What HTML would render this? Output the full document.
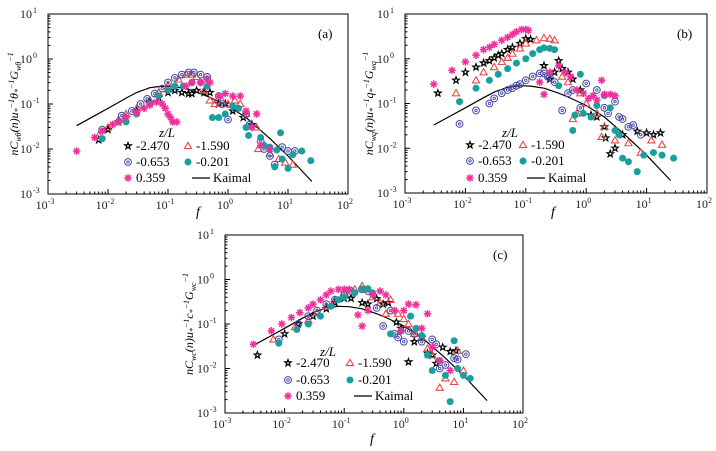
<!DOCTYPE html>
<html><head><meta charset="utf-8">
<style>
html,body{margin:0;padding:0;background:#fff;}
svg{display:block;font-family:"Liberation Serif",serif;}
</style></head>
<body>
<svg id="chart" width="716" height="451" viewBox="0 0 716 451"></svg>
<script>
// Shared Kaimal curve
const kaimalF = [0.003,0.006,0.01,0.02,0.03,0.05,0.08,0.12,0.2,0.35,0.5,1,2,5,10,25];
const kaimalV = [0.033,0.055,0.08,0.135,0.18,0.23,0.25,0.245,0.22,0.17,0.14,0.09,0.05,0.017,0.007,0.0019];
const xTicks = [-3,-2,-1,0,1,2];
const yTicks = [-3,-2,-1,0,1];
const seriesNames = ["-2.470","-1.590","-0.653","-0.201","0.359"];

// Panel (a)
const aStarF=[0.007,0.01,0.015,0.02,0.03,0.05,0.07,0.1,0.13,0.17,0.22,0.25,0.3,0.4,0.5,0.7,0.9,1.2,1.8,2.5];
const aStarV=[0.016,0.027,0.04,0.05,0.07,0.11,0.14,0.18,0.2,0.18,0.17,0.17,0.2,0.18,0.18,0.1,0.1,0.07,0.05,0.035];
const aTriF=[0.007,0.01,0.015,0.02,0.03,0.05,0.07,0.1,0.15,0.2,0.25,0.3,0.4,0.5,0.6,0.8,1.0,1.3,1.6,2,3,3.2,4,5,7,9,12];
const aTriV=[0.02,0.03,0.045,0.06,0.08,0.12,0.18,0.25,0.35,0.45,0.45,0.4,0.2,0.12,0.1,0.12,0.1,0.12,0.1,0.06,0.03,0.01,0.012,0.008,0.006,0.005,0.0045];
const aCirF=[0.008,0.017,0.025,0.035,0.045,0.06,0.08,0.1,0.13,0.17,0.22,0.27,0.35,0.45,0.7,0.8,1.0,1.3,2,2.3,3.5,4,5,6,8,10,13];
const aCirV=[0.027,0.055,0.07,0.1,0.13,0.17,0.22,0.3,0.38,0.45,0.5,0.5,0.45,0.4,0.15,0.1,0.045,0.08,0.06,0.035,0.015,0.01,0.007,0.0045,0.011,0.009,0.009];
const aDotF=[0.008,0.015,0.02,0.03,0.05,0.07,0.1,0.13,0.18,0.25,0.35,0.45,0.55,0.7,0.9,1.2,1.5,2,2.2,3.5,4,5,6,6.5,7.5,8,10,12,17,24];
const aDotV=[0.017,0.04,0.04,0.06,0.1,0.15,0.2,0.25,0.25,0.3,0.3,0.25,0.05,0.05,0.06,0.09,0.08,0.03,0.02,0.018,0.012,0.011,0.004,0.0095,0.023,0.006,0.0037,0.0075,0.009,0.0055];
const aAstF=[0.003,0.006,0.008,0.012,0.015,0.02,0.03,0.04,0.05,0.065,0.08,0.09,0.1,0.11,0.12,0.14,0.2,0.25,0.35,0.45,0.5,0.7,0.9,1.2,1.6,2,2.5,3,3.5,5];
const aAstV=[0.009,0.018,0.025,0.035,0.04,0.05,0.065,0.08,0.095,0.11,0.1,0.08,0.06,0.05,0.04,0.04,0.25,0.3,0.3,0.35,0.3,0.15,0.17,0.15,0.15,0.07,0.03,0.06,0.012,0.01];

// Panel (b)
const bStarF=[0.0035,0.007,0.01,0.015,0.02,0.025,0.03,0.035,0.04,0.05,0.06,0.08,0.1,0.12,0.2,0.25,0.3,0.35,0.4,0.5,0.6,0.8,1.2,1.5,2,2.1,2.5,3,4,7,10,13,17];
const bStarV=[0.17,0.33,0.5,0.65,0.8,0.9,1.05,1.2,1.3,1.6,1.8,2.2,2.8,2.7,0.7,0.35,0.5,0.9,0.6,0.5,0.35,0.2,0.055,0.05,0.03,0.017,0.0075,0.01,0.02,0.024,0.022,0.02,0.022];
const bTriF=[0.007,0.015,0.02,0.03,0.04,0.05,0.06,0.08,0.1,0.15,0.2,0.25,0.3,0.4,0.5,0.6,0.7,0.8,1.0,1.5,1.8,2,3,5,8,12,18];
const bTriV=[0.17,0.33,0.5,0.65,0.85,1.05,1.3,1.7,2.2,2.6,2.9,2.8,2.6,0.4,0.3,0.045,0.06,0.17,0.1,0.06,0.018,0.03,0.015,0.013,0.008,0.015,0.012];
const bCirF=[0.008,0.015,0.025,0.03,0.04,0.05,0.06,0.07,0.08,0.1,0.13,0.17,0.2,0.23,0.25,0.3,0.4,0.5,0.6,0.8,1.0,1.5,2,2.3,3,3.5,4,5,6,8];
const bCirV=[0.035,0.07,0.1,0.13,0.17,0.2,0.22,0.25,0.27,0.33,0.4,0.47,0.47,0.4,0.38,0.3,0.07,0.17,0.2,0.08,0.28,0.2,0.08,0.06,0.11,0.05,0.045,0.03,0.033,0.02];
const bDotF=[0.008,0.015,0.025,0.035,0.05,0.07,0.1,0.13,0.17,0.2,0.25,0.3,0.35,0.6,0.65,0.8,0.9,1.2,1.5,2,2.5,3,3.5,4,5,7,9,13,18,28];
const bDotV=[0.11,0.22,0.33,0.45,0.6,0.8,1.0,1.3,1.6,1.75,1.7,1.6,0.25,0.025,0.055,0.45,0.06,0.05,0.09,0.15,0.08,0.025,0.02,0.006,0.005,0.003,0.007,0.008,0.007,0.006];
const bAstF=[0.003,0.006,0.01,0.015,0.02,0.025,0.03,0.04,0.05,0.06,0.07,0.085,0.1,0.11,0.17,0.2,0.25,0.35,0.45,0.55,0.7,0.9,1.1,1.3,1.5,1.8,2,2.5,3];
const bAstV=[0.27,0.55,0.85,1.2,1.6,1.8,2.1,2.6,3.0,3.5,4.0,4.5,4.5,4.3,0.3,0.16,0.5,0.7,0.5,0.4,0.2,0.17,0.13,0.15,0.12,0.33,0.16,0.16,0.15];

// Panel (c)
const cStarF=[0.0035,0.01,0.017,0.03,0.05,0.07,0.1,0.13,0.2,0.25,0.35,0.45,0.55,0.75,0.9,1.2,1.5,2,2.5,3,3.5,4.5,6,7.5];
const cStarV=[0.02,0.06,0.1,0.15,0.22,0.3,0.38,0.38,0.3,0.28,0.37,0.28,0.3,0.11,0.08,0.014,0.04,0.05,0.022,0.02,0.013,0.03,0.024,0.025];
const cTriF=[0.0065,0.015,0.025,0.035,0.05,0.07,0.1,0.15,0.2,0.25,0.3,0.4,0.5,0.6,0.8,1,1.2,1.5,2,2.5,3,4,5,7,8,10];
const cTriV=[0.045,0.085,0.12,0.18,0.25,0.35,0.5,0.6,0.72,0.6,0.4,0.3,0.17,0.35,0.17,0.13,0.1,0.06,0.05,0.028,0.02,0.0037,0.006,0.005,0.025,0.009];
const cCirF=[0.008,0.017,0.025,0.035,0.05,0.07,0.1,0.13,0.2,0.25,0.35,0.45,0.6,0.7,0.8,1,1.2,1.5,2,3,3.5,4,5,7,8,11];
const cCirV=[0.045,0.1,0.15,0.2,0.28,0.35,0.45,0.55,0.6,0.55,0.23,0.09,0.2,0.06,0.05,0.04,0.07,0.06,0.04,0.045,0.035,0.01,0.012,0.017,0.016,0.021];
const cDotF=[0.008,0.016,0.025,0.04,0.06,0.08,0.1,0.15,0.2,0.25,0.3,0.6,0.9,1.3,1.6,2,2.5,3,4,5,6,7,8,10,13];
const cDotV=[0.037,0.075,0.1,0.15,0.25,0.35,0.4,0.5,0.6,0.62,0.5,0.06,0.07,0.15,0.08,0.055,0.02,0.009,0.015,0.007,0.0018,0.042,0.01,0.007,0.006];
const cAstF=[0.003,0.006,0.009,0.013,0.018,0.025,0.03,0.04,0.05,0.06,0.08,0.1,0.12,0.17,0.2,0.25,0.3,0.4,0.5,0.7,0.9,1,1.2,1.6,2,2.5,3,4,6];
const cAstV=[0.035,0.07,0.1,0.14,0.18,0.23,0.28,0.35,0.45,0.55,0.6,0.6,0.6,0.16,0.09,0.2,0.45,0.55,0.45,0.2,0.07,0.2,0.28,0.27,0.08,0.17,0.03,0.015,0.009];

const NS="http://www.w3.org/2000/svg";
const svg=document.getElementById('chart');
function mk(tag,attrs,parent){const e=document.createElementNS(NS,tag);for(const k in attrs)e.setAttribute(k,attrs[k]);(parent||svg).appendChild(e);return e;}

const panels=[
 {id:'a',L:48,R:348,T:14,B:194,label:'(a)',sub:'wθ',q:'θ',
  data:[[aStarF,aStarV],[aTriF,aTriV],[aCirF,aCirV],[aDotF,aDotV],[aAstF,aAstV]],
  leg:{zx:167,zy:137,rows:[150,166,182],c1:128,c2:188,yl:18,fx:198,fy:216}},
 {id:'b',L:405,R:707,T:14,B:193,label:'(b)',sub:'wq',q:'q',
  data:[[bStarF,bStarV],[bTriF,bTriV],[bCirF,bCirV],[bDotF,bDotV],[bAstF,bAstV]],
  leg:{zx:510,zy:137,rows:[149,165,182],c1:470,c2:523,yl:373,fx:553,fy:216}},
 {id:'c',L:225,R:523,T:235,B:413,label:'(c)',sub:'wc',q:'c',
  data:[[cStarF,cStarV],[cTriF,cTriV],[cCirF,cCirV],[cDotF,cDotV],[cAstF,cAstV]],
  leg:{zx:328,zy:356,rows:[367,384,400],c1:288,c2:350,yl:193,fx:372,fy:443}}
];

function marker(g,k,x,y){
  let e;
  if(k===0){ // star
    let pts=[];for(let i=0;i<10;i++){const r=i%2?1.4:3.4;const a=-Math.PI/2+i*Math.PI/5;pts.push((x+r*Math.cos(a)).toFixed(1)+','+(y+r*Math.sin(a)).toFixed(1));}
    e=mk('polygon',{points:pts.join(' '),fill:'#fff',stroke:'#000','stroke-width':1.2},g);
  } else if(k===1){
    e=mk('polygon',{points:`${x},${y-3.6} ${x+3.6},${y+2.6} ${x-3.6},${y+2.6}`,fill:'none',stroke:'#e84a4a','stroke-width':1.1},g);
  } else if(k===2){
    e=mk('g',{},g);
    mk('circle',{cx:x,cy:y,r:3.4,fill:'none',stroke:'#4848a8','stroke-width':1},e);
    mk('circle',{cx:x,cy:y,r:1.2,fill:'none',stroke:'#4848a8','stroke-width':0.9},e);
  } else if(k===3){
    e=mk('circle',{cx:x,cy:y,r:3.5,fill:'#18a0a0'},g);
  } else {
    e=mk('g',{stroke:'#f0309a','stroke-width':1.5},g);
    for(let i=0;i<4;i++){const a=i*Math.PI/4;mk('line',{x1:x-3.8*Math.cos(a),y1:y-3.8*Math.sin(a),x2:x+3.8*Math.cos(a),y2:y+3.8*Math.sin(a)},e);}
  }
  return e;
}

const markerNames=['star-marker','triangle-marker','ring-marker','teal-dot-marker','asterisk-marker'];

panels.forEach(p=>{
  const g=mk('g',{});
  
  
  const xs=v=>p.L+(Math.log10(v)+3)/5*(p.R-p.L);
  const ys=v=>p.B-(Math.log10(v)+3)/4*(p.B-p.T);
  const frame=mk('rect',{x:p.L,y:p.T,width:p.R-p.L,height:p.B-p.T,fill:'none',stroke:'#000','stroke-width':1},g);
  
  
  xTicks.forEach((t,i)=>{
    const x=p.L+(t+3)/5*(p.R-p.L);
    mk('line',{x1:x,y1:p.B,x2:x,y2:p.B-5,stroke:'#000'},g);
    const tx=mk('text',{x:x-3,y:p.B+15,'font-size':12,'text-anchor':'middle',fill:'#222'},g);
    
    
    tx.textContent='10';
    const s=mk('tspan',{dy:-5,'font-size':8},tx);s.textContent=String(t);
    if(i<xTicks.length-1)for(let m=2;m<10;m++){const xm=xs(Math.pow(10,t)*m);mk('line',{x1:xm,y1:p.B,x2:xm,y2:p.B-2.5,stroke:'#000'},g);}
  });
  yTicks.forEach((t,i)=>{
    const y=p.B-(t+3)/4*(p.B-p.T);
    mk('line',{x1:p.L,y1:y,x2:p.L+5,y2:y,stroke:'#000'},g);
    const tx=mk('text',{x:p.L-16,y:y+4,'font-size':12,'text-anchor':'end',fill:'#222'},g);
    
    
    tx.textContent='10';
    const s=mk('tspan',{x:p.L-15,y:y-1,'font-size':8,'text-anchor':'start'},tx);s.textContent=String(t);
    if(i<yTicks.length-1)for(let m=2;m<10;m++){const ym=ys(Math.pow(10,t)*m);mk('line',{x1:p.L,y1:ym,x2:p.L+2.5,y2:ym,stroke:'#000'},g);}
  });
  const kp=kaimalF.map((f,i)=>xs(f).toFixed(1)+','+ys(kaimalV[i]).toFixed(1)).join(' ');
  const kl=mk('polyline',{points:kp,fill:'none',stroke:'#000','stroke-width':1.2},g);
  
  
  p.data.forEach((d,k)=>{
    const sg=mk('g',{},g);
    
    
    d[0].forEach((f,i)=>{
      const m=marker(sg,k,xs(f),ys(d[1][i]));
      
      
    });
  });
  const pl=mk('text',{x:p.R-30,y:p.T+24,'font-size':13},g);
  
  
  pl.textContent=p.label;
  const lg=mk('g',{'font-size':13},g);
  
  
  const zt=mk('text',{x:p.leg.zx,y:p.leg.zy,'font-style':'italic','text-anchor':'middle'},lg);
  
  
  zt.textContent='z/L';
  const slots=[[0,p.leg.c1,0],[1,p.leg.c2,0],[2,p.leg.c1,1],[3,p.leg.c2,1],[4,p.leg.c1,2]];
  slots.forEach(s=>{
    const y=p.leg.rows[s[2]];
    const m=marker(lg,s[0],s[1],y-4);
    
    
    const t=mk('text',{x:s[1]+8,y:y},lg);
    
    
    t.textContent=seriesNames[s[0]];
  });
  const ky=p.leg.rows[2]-4;
  mk('line',{x1:p.leg.c2+4,y1:ky,x2:p.leg.c2+22,y2:ky,stroke:'#000','stroke-width':1.2},lg);
  const kt=mk('text',{x:p.leg.c2+25,y:p.leg.rows[2]},lg);
  
  
  kt.textContent='Kaimal';
  const xt=mk('text',{x:p.leg.fx,y:p.leg.fy,'font-size':14,'font-style':'italic','text-anchor':'middle'},g);
  
  
  xt.textContent='f';
  const cy=(p.T+p.B)/2;
  const yt=mk('text',{x:0,y:0,'font-size':12,'font-style':'italic','text-anchor':'middle',transform:`translate(${p.leg.yl},${cy}) rotate(-90)`},g);
  
  
  const parts=[['nC',0,12],[p.sub,3,8],['(n)u',-3,12],['*',2,8],['−1',-6,8],[p.q,4,12],['*',2,8],['−1',-6,8],['G',4,12],[p.sub,3,8],['−1',-8,8]];
  parts.forEach(pt=>{const s=mk('tspan',{dy:pt[1],'font-size':pt[2]},yt);s.textContent=pt[0];});
});
</script>
</body></html>
